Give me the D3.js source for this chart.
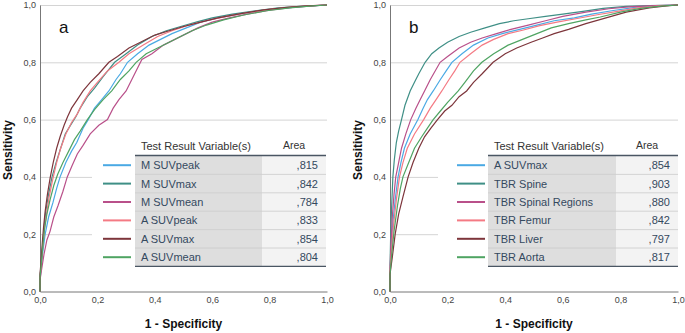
<!DOCTYPE html>
<html>
<head>
<meta charset="utf-8">
<script src="https://cdn.jsdelivr.net/npm/d3@7"></script>
<style>
  body { margin: 0; background: #fff; }
  svg { display: block; font-family: "Liberation Sans", Arial, sans-serif; }
</style>
</head>
<body>
<svg id="chart" width="685" height="333"></svg>
<script>
// ---- data: [1 - specificity, sensitivity] ----
let mSuvPeak = [[0,0],[0,0.04],[0.005,0.09],[0.01,0.14],[0.018,0.2],[0.03,0.26],[0.045,0.31],[0.058,0.36],[0.07,0.4],[0.09,0.45],[0.11,0.49],[0.128,0.52],[0.15,0.57],[0.168,0.6],[0.19,0.64],[0.215,0.67],[0.24,0.7],[0.265,0.74],[0.28,0.76],[0.305,0.8],[0.34,0.83],[0.38,0.86],[0.42,0.88],[0.46,0.9],[0.51,0.92],[0.56,0.94],[0.62,0.955],[0.7,0.97],[0.78,0.982],[0.86,0.99],[0.93,0.996],[1,1]];
let mSuvMax = [[0,0],[0,0.05],[0.004,0.1],[0.009,0.16],[0.014,0.22],[0.02,0.28],[0.03,0.34],[0.042,0.4],[0.056,0.45],[0.072,0.5],[0.088,0.55],[0.106,0.58],[0.125,0.61],[0.14,0.64],[0.165,0.68],[0.19,0.71],[0.22,0.75],[0.26,0.8],[0.3,0.83],[0.34,0.86],[0.39,0.89],[0.44,0.91],[0.49,0.925],[0.55,0.942],[0.6,0.955],[0.67,0.968],[0.75,0.98],[0.83,0.99],[0.92,0.996],[1,1]];
let mSuvMean = [[0,0],[0,0.04],[0.006,0.08],[0.014,0.13],[0.024,0.18],[0.035,0.21],[0.048,0.26],[0.063,0.3],[0.08,0.35],[0.095,0.4],[0.112,0.44],[0.13,0.48],[0.15,0.51],[0.175,0.55],[0.205,0.58],[0.235,0.6],[0.255,0.64],[0.275,0.67],[0.3,0.7],[0.32,0.74],[0.34,0.78],[0.355,0.81],[0.39,0.83],[0.43,0.86],[0.47,0.88],[0.51,0.9],[0.55,0.92],[0.6,0.94],[0.66,0.955],[0.73,0.97],[0.8,0.982],[0.88,0.992],[0.95,0.997],[1,1]];
let aSuvPeak = [[0,0],[0,0.05],[0.005,0.1],[0.01,0.16],[0.016,0.22],[0.024,0.28],[0.032,0.33],[0.044,0.39],[0.058,0.45],[0.072,0.5],[0.09,0.55],[0.11,0.59],[0.13,0.62],[0.15,0.66],[0.175,0.7],[0.2,0.73],[0.235,0.77],[0.275,0.8],[0.31,0.83],[0.36,0.86],[0.41,0.89],[0.46,0.91],[0.52,0.93],[0.58,0.945],[0.65,0.96],[0.72,0.973],[0.8,0.985],[0.88,0.993],[0.95,0.998],[1,1]];
let aSuvMax = [[0,0],[0,0.06],[0.004,0.11],[0.008,0.17],[0.012,0.22],[0.018,0.28],[0.026,0.34],[0.036,0.4],[0.046,0.45],[0.058,0.5],[0.07,0.54],[0.084,0.58],[0.096,0.61],[0.11,0.64],[0.13,0.67],[0.15,0.7],[0.175,0.73],[0.205,0.76],[0.24,0.8],[0.27,0.82],[0.31,0.85],[0.35,0.87],[0.4,0.895],[0.45,0.91],[0.5,0.925],[0.56,0.94],[0.62,0.955],[0.7,0.97],[0.78,0.983],[0.86,0.992],[0.93,0.997],[1,1]];
let aSuvMean = [[0,0],[0,0.05],[0.005,0.1],[0.01,0.16],[0.016,0.22],[0.024,0.27],[0.035,0.32],[0.048,0.37],[0.062,0.41],[0.08,0.45],[0.1,0.49],[0.12,0.53],[0.14,0.56],[0.165,0.6],[0.19,0.635],[0.22,0.67],[0.25,0.7],[0.28,0.74],[0.31,0.77],[0.335,0.8],[0.37,0.83],[0.41,0.85],[0.45,0.87],[0.49,0.89],[0.53,0.91],[0.58,0.93],[0.64,0.948],[0.71,0.965],[0.79,0.98],[0.87,0.99],[0.94,0.996],[1,1]];

let bSuvMax = [[0,0],[0,0.07],[0.004,0.15],[0.01,0.24],[0.018,0.32],[0.028,0.4],[0.038,0.45],[0.05,0.5],[0.07,0.55],[0.097,0.6],[0.115,0.64],[0.13,0.67],[0.15,0.7],[0.175,0.74],[0.195,0.77],[0.215,0.8],[0.25,0.83],[0.29,0.86],[0.34,0.885],[0.39,0.9],[0.45,0.915],[0.51,0.93],[0.57,0.945],[0.64,0.955],[0.7,0.968],[0.77,0.98],[0.85,0.992],[0.92,0.997],[1,1]];
let tbrSpine = [[0,0],[0,0.08],[0.002,0.18],[0.005,0.28],[0.01,0.4],[0.015,0.46],[0.022,0.52],[0.03,0.56],[0.04,0.6],[0.052,0.65],[0.07,0.7],[0.085,0.73],[0.1,0.76],[0.122,0.8],[0.145,0.83],[0.17,0.85],[0.2,0.87],[0.24,0.89],[0.28,0.905],[0.33,0.92],[0.38,0.935],[0.43,0.945],[0.48,0.952],[0.54,0.96],[0.6,0.968],[0.67,0.978],[0.74,0.988],[0.82,0.995],[0.9,0.998],[1,1]];
let tbrSpinalRegions = [[0,0],[0,0.07],[0.003,0.16],[0.008,0.26],[0.014,0.34],[0.02,0.4],[0.03,0.45],[0.04,0.5],[0.055,0.55],[0.072,0.6],[0.09,0.64],[0.105,0.67],[0.12,0.7],[0.14,0.74],[0.174,0.8],[0.2,0.82],[0.24,0.85],[0.28,0.87],[0.32,0.885],[0.37,0.9],[0.42,0.915],[0.48,0.93],[0.54,0.945],[0.6,0.96],[0.68,0.975],[0.76,0.987],[0.84,0.994],[0.92,0.998],[1,1]];
let tbrFemur = [[0,0],[0,0.07],[0.005,0.14],[0.012,0.23],[0.022,0.32],[0.033,0.4],[0.045,0.45],[0.06,0.5],[0.085,0.55],[0.117,0.6],[0.14,0.64],[0.16,0.67],[0.18,0.7],[0.205,0.74],[0.225,0.77],[0.243,0.8],[0.28,0.83],[0.32,0.86],[0.36,0.88],[0.41,0.9],[0.46,0.912],[0.52,0.928],[0.58,0.94],[0.65,0.953],[0.72,0.966],[0.79,0.978],[0.86,0.99],[0.93,0.996],[1,1]];
let tbrLiver = [[0,0],[0,0.06],[0.008,0.12],[0.018,0.2],[0.03,0.27],[0.045,0.33],[0.063,0.4],[0.08,0.45],[0.1,0.5],[0.12,0.54],[0.142,0.57],[0.165,0.6],[0.19,0.63],[0.215,0.65],[0.24,0.68],[0.266,0.7],[0.29,0.73],[0.32,0.76],[0.358,0.8],[0.4,0.83],[0.44,0.85],[0.49,0.87],[0.53,0.885],[0.57,0.9],[0.62,0.915],[0.68,0.935],[0.75,0.955],[0.82,0.975],[0.9,0.99],[0.96,0.997],[1,1]];
let tbrAorta = [[0,0],[0,0.06],[0.006,0.13],[0.014,0.21],[0.026,0.3],[0.036,0.36],[0.045,0.4],[0.065,0.45],[0.085,0.5],[0.11,0.54],[0.13,0.57],[0.15,0.6],[0.175,0.63],[0.2,0.66],[0.237,0.7],[0.26,0.73],[0.29,0.77],[0.319,0.8],[0.36,0.83],[0.41,0.86],[0.46,0.88],[0.51,0.9],[0.56,0.92],[0.62,0.935],[0.68,0.948],[0.73,0.958],[0.8,0.975],[0.87,0.988],[0.94,0.996],[1,1]];

let labelsA = ["M SUVpeak", "M SUVmax", "M SUVmean", "A SUVpeak", "A SUVmax", "A SUVmean"];
let areasA = [",815", ",842", ",784", ",833", ",854", ",804"];
let labelsB = ["A SUVmax", "TBR Spine", "TBR Spinal Regions", "TBR Femur", "TBR Liver", "TBR Aorta"];
let areasB = [",854", ",903", ",880", ",842", ",797", ",817"];
let tickValues = [0, 0.2, 0.4, 0.6, 0.8, 1.0];

let colors = ["#4aa9e4", "#3f8f86", "#b9508a", "#f47a84", "#7d353b", "#4fa462"];

let svg = d3.select("#chart");
let fmt = d => d3.format(".1f")(d).replace(".", ",");

function drawPanel(opt){
  let x = d3.scaleLinear().domain([0, 1]).range([opt.x0, opt.x1]);
  let y = d3.scaleLinear().domain([0, 1]).range([291.5, 5]);
  let g = svg.append("g");

  // gridlines
  g.append("g")
    .attr("transform", `translate(${opt.x0},0)`)
    .call(d3.axisLeft(y).tickValues(tickValues.slice(1)).tickSize(-(opt.x1 - opt.x0)).tickFormat(""))
    .call(a => a.select(".domain").remove())
    .call(a => a.selectAll("line").attr("stroke", "#d4d4d4"));

  // axes
  let yAxis = g.append("g")
    .attr("transform", `translate(${opt.x0},0)`)
    .call(d3.axisLeft(y).tickValues(tickValues).tickSize(0).tickPadding(4).tickFormat(fmt));
  let xAxis = g.append("g")
    .attr("transform", "translate(0,291.5)")
    .call(d3.axisBottom(x).tickValues(tickValues).tickSize(0).tickPadding(5).tickFormat(fmt));
  [xAxis, yAxis].forEach(a => {
    a.select(".domain").attr("stroke", "#777");
    a.selectAll("text").attr("fill", "#444").style("font-size", "9px").style("font-family", "Liberation Sans, Arial, sans-serif");
  });

  // curves
  let line = d3.line().x(d => x(d[0])).y(d => y(d[1]));
  opt.series.forEach((s, i) => {
    g.append("path")
      .datum(s)
      .attr("fill", "none")
      .attr("stroke", colors[i])
      .attr("stroke-width", 1.2)
      .attr("d", line);
  });

  // legend table (white backing over the plot)
  let t = opt.table;
  let rowH = 18.4, top = 156;
  g.append("rect")
    .attr("x", t.box).attr("y", top)
    .attr("width", opt.x1 - t.box).attr("height", 6 * rowH + 6)
    .attr("fill", "#fff");
  g.append("rect")
    .attr("x", t.left).attr("y", 136)
    .attr("width", opt.x1 - t.left).attr("height", top - 136)
    .attr("fill", "#fff");

  g.append("text").attr("x", t.left + 6).attr("y", 150)
    .attr("fill", "#333").style("font-size", "11px").text("Test Result Variable(s)");
  g.append("text").attr("x", (t.mid + t.right) / 2).attr("y", 149)
    .attr("text-anchor", "middle").attr("fill", "#333").style("font-size", "10.5px").text("Area");

  opt.labels.forEach((lab, i) => {
    let ry = top + i * rowH;
    g.append("rect").attr("x", t.left).attr("y", ry).attr("width", t.mid - t.left).attr("height", rowH)
      .attr("fill", "#dedede");
    g.append("rect").attr("x", t.mid).attr("y", ry).attr("width", t.right - t.mid).attr("height", rowH)
      .attr("fill", "#f3f3f3");
    if (i > 0) {
      g.append("line").attr("x1", t.left).attr("x2", t.right).attr("y1", ry).attr("y2", ry)
        .attr("stroke", "#c9c9c9").attr("stroke-width", 0.8);
    }
    g.append("line").attr("x1", t.swatch).attr("x2", t.swatch + 28)
      .attr("y1", ry + rowH / 2).attr("y2", ry + rowH / 2)
      .attr("stroke", colors[i]).attr("stroke-width", 2);
    g.append("text").attr("x", t.left + 6).attr("y", ry + rowH / 2 + 4)
      .attr("fill", "#34495e").style("font-size", "11px").text(lab);
    g.append("text").attr("x", t.right - 8).attr("y", ry + rowH / 2 + 4)
      .attr("text-anchor", "end").attr("fill", "#34495e").style("font-size", "11px").text(opt.areas[i]);
  });
  g.append("line").attr("x1", t.left).attr("x2", t.right).attr("y1", top - 0.5).attr("y2", top - 0.5)
    .attr("stroke", "#4a5663").attr("stroke-width", 1.4);
  g.append("line").attr("x1", t.left).attr("x2", t.right).attr("y1", top + 6 * rowH).attr("y2", top + 6 * rowH)
    .attr("stroke", "#4a5663").attr("stroke-width", 1.4);

  // panel letter
  g.append("text").attr("x", opt.x0 + 19).attr("y", 33)
    .attr("fill", "#111").style("font-size", "17px").text(opt.letter);

  // axis titles
  g.append("text")
    .attr("transform", `translate(${opt.x0 - 28},150) rotate(-90)`)
    .attr("text-anchor", "middle").attr("fill", "#111")
    .style("font-size", "12px").style("font-weight", "bold").text("Sensitivity");
  g.append("text").attr("x", (opt.x0 + opt.x1) / 2).attr("y", 328)
    .attr("text-anchor", "middle").attr("fill", "#111")
    .style("font-size", "12px").style("font-weight", "bold").text("1 - Specificity");
}

drawPanel({
  x0: 40, x1: 327, letter: "a",
  series: [mSuvPeak, mSuvMax, mSuvMean, aSuvPeak, aSuvMax, aSuvMean],
  labels: labelsA, areas: areasA,
  table: {box: 92, swatch: 103, left: 135, mid: 262, right: 326}
});
drawPanel({
  x0: 390, x1: 678, letter: "b",
  series: [bSuvMax, tbrSpine, tbrSpinalRegions, tbrFemur, tbrLiver, tbrAorta],
  labels: labelsB, areas: areasB,
  table: {box: 438, swatch: 457, left: 488, mid: 616, right: 678}
});
</script>
</body>
</html>
